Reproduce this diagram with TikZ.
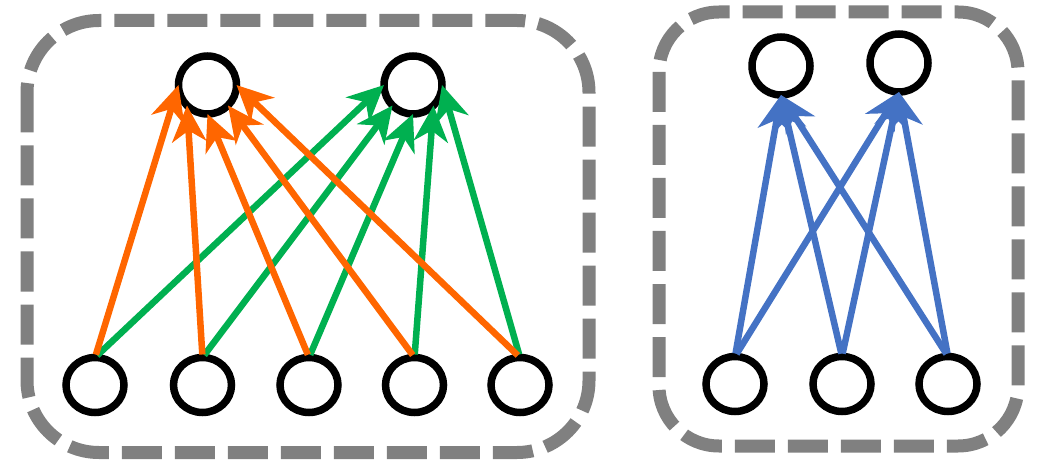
\documentclass[tikz,border=0pt]{standalone}
\usetikzlibrary{arrows.meta,shapes.geometric}
\definecolor{edgeorange}{RGB}{255,102,0}
\definecolor{edgegreen}{RGB}{0,176,80}
\definecolor{edgeblue}{RGB}{68,114,196}
\definecolor{framegray}{RGB}{128,128,128}
\begin{document}
\begin{tikzpicture}[x=1pt,y=-1pt,
  unit/.style={draw=black, line width=7.5pt, fill=white, ellipse, inner sep=0pt,
    outer sep=0pt, minimum width=58pt, minimum height=58pt},
  lowunit/.style={unit, minimum height=55pt},
  link/.style={line width=6.5pt, shorten <=3pt,
    -{Stealth[length=36pt,width=34pt,inset=11pt]}},
  frame/.style={draw=framegray, line width=13pt, dash pattern=on 40pt off 13pt}
]
\useasboundingbox (0,0) rectangle (1038,462);

% group frames
\draw[frame, rounded corners=72pt] (27,20.5) rectangle (589,452.5);
\draw[frame, rounded corners=60pt] (659,12) rectangle (1018,446);

% left group: two outputs, five inputs
\node[unit] (t1) at (207.5,85) {};
\node[unit] (t2) at (413,85) {};
\node[lowunit] (b1) at (95,385) {};
\node[lowunit] (b2) at (202.5,385) {};
\node[lowunit] (b3) at (309,385) {};
\node[lowunit] (b4) at (414.5,385) {};
\node[lowunit] (b5) at (520,385) {};

% right group: two outputs, three inputs
\node[unit] (r1) at (781,66) {};
\node[unit] (r2) at (899,63) {};
\node[lowunit] (s1) at (735,384) {};
\node[lowunit] (s2) at (842,384) {};
\node[lowunit] (s3) at (948,384) {};

% green links into the second output
\draw[link, edgegreen] (b1.north) -- (t2.west);
\draw[link, edgegreen] (b2.north) -- (t2.south west);
\draw[link, edgegreen] (b3.north) -- (t2.south);
\draw[link, edgegreen] (b4.north) -- (t2.south east);
\draw[link, edgegreen] (b5.north) -- (t2.east);

% orange links into the first output
\draw[link, edgeorange] (b1.north) -- (t1.west);
\draw[link, edgeorange] (b2.north) -- (t1.south west);
\draw[link, edgeorange] (b3.north) -- (t1.south);
\draw[link, edgeorange] (b4.north) -- (t1.south east);
\draw[link, edgeorange] (b5.north) -- (t1.east);

% blue links, fully connected
\foreach \s in {s1,s2,s3}{
  \draw[link, edgeblue] (\s.north) -- (r1.south);
  \draw[link, edgeblue] (\s.north) -- (r2.south);
}
\end{tikzpicture}
\end{document}
